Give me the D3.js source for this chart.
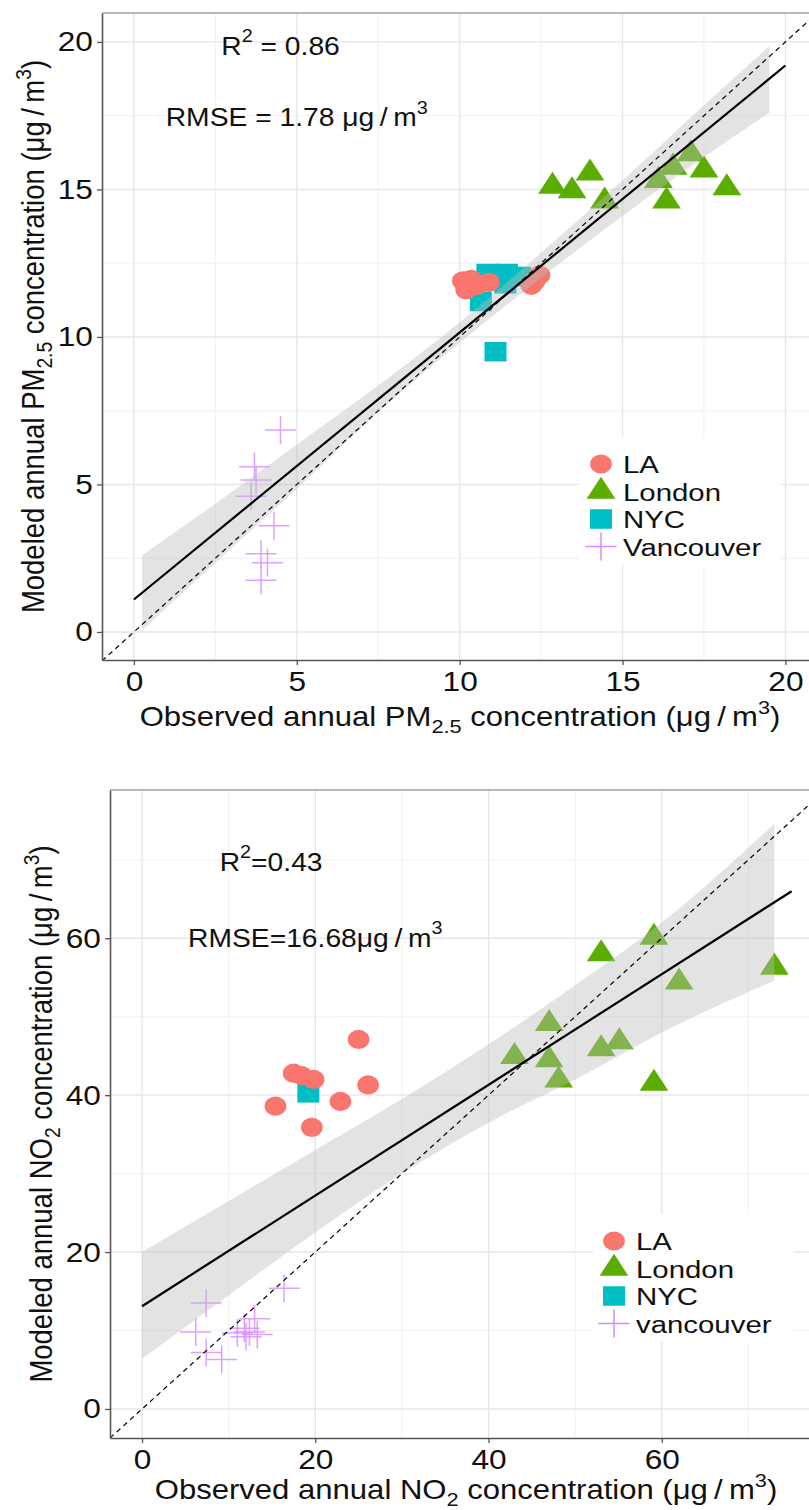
<!DOCTYPE html>
<html>
<head>
<meta charset="utf-8">
<script src="https://cdn.jsdelivr.net/npm/d3@7"></script>
<style>
  body { margin: 0; background: #fff; }
  svg { display: block; }
  text { font-family: "Liberation Sans", Arial, sans-serif; fill: #111; }
</style>
</head>
<body>
<svg id="chart" width="809" height="1510"></svg>
<script>
// ---- data ----
const cities = ["LA", "London", "NYC", "Vancouver"];
const citiesNO2 = ["LA", "London", "NYC", "vancouver"];
const cityColors = ["#F8766D", "#5BAD00", "#00BFC4", "#D68AFF"];

// PM2.5 panel: [observed, modeled]
const pmLA = [[10.1, 11.9], [10.2, 11.6], [10.35, 11.95], [10.55, 11.75], [10.9, 11.85], [12.2, 11.75], [12.45, 12.1], [12.3, 11.9]];
const pmLondon = [[12.85, 15.1], [13.45, 14.95], [14.0, 15.55], [14.45, 14.6], [16.1, 15.3], [16.55, 15.75], [17.1, 16.2], [17.5, 15.65], [16.35, 14.6], [18.2, 15.05]];
const pmNYC = [[11.1, 9.5], [10.65, 11.2], [10.85, 12.15], [11.45, 12.15], [11.4, 11.8], [11.85, 12.05]];
const pmVancouver = [[4.5, 6.85], [3.7, 5.6], [3.75, 5.15], [3.6, 4.6], [4.3, 3.6], [3.9, 2.65], [4.1, 2.35], [3.9, 1.75]];
const pmFitX = [0, 20];
const pmFitY = [1.1, 19.2];
const pmBandX = [0.25, 2.5, 5, 7.5, 10, 12.5, 15, 17.5, 19.5];
const pmBandLo = [0.05, 2.35, 4.85, 7.45, 9.8, 12.0, 14.1, 16.1, 17.6];
const pmBandHi = [2.6, 4.35, 6.35, 8.35, 10.5, 12.85, 15.3, 17.85, 19.85];
const pmTicks = [0, 5, 10, 15, 20];
const pmMinor = [2.5, 7.5, 12.5, 17.5];

// NO2 panel: [observed, modeled]
const no2LA = [[25.0, 47.1], [17.5, 42.8], [18.4, 42.5], [19.8, 42.0], [26.1, 41.3], [22.9, 39.2], [15.4, 38.6], [19.6, 35.9]];
const no2London = [[53.0, 58.0], [59.1, 60.1], [73.0, 56.3], [62.0, 54.4], [47.0, 49.1], [43.0, 44.9], [47.0, 44.5], [53.0, 45.9], [55.1, 46.8], [48.1, 41.9], [59.1, 41.5]];
const no2NYC = [[19.2, 40.3]];
const no2Vancouver = [[7.4, 13.5], [16.4, 15.4], [6.2, 9.8], [7.4, 7.2], [9.2, 6.3], [11.0, 9.7], [11.8, 10.3], [12.4, 9.8], [13.0, 11.5], [13.3, 9.5], [12.0, 9.2]];
const no2FitX = [0, 75];
const no2FitY = [13.1, 66.0];
const no2BandX = [0, 10, 20, 30, 40, 50, 60, 73];
const no2BandLo = [6.4, 14.5, 22.5, 30, 36.5, 42, 48, 54.6];
const no2BandHi = [20, 26.5, 33, 39.5, 46.5, 54, 62, 74.6];
const no2Ticks = [0, 20, 40, 60];
const no2Minor = [10, 30, 50, 70];

const unit = [{ t: " (\u03bcg\u2009/\u2009m" }, { t: "3", sup: true }, { t: ")" }];

const SX = 1.13; // the picture is a little wider than tall

const svg = d3.select("#chart");

// rich text with sub / superscripts
function rich(sel, segs, size) {
  let shift = 0;
  segs.forEach(s => {
    const target = s.sub ? size * 0.25 : s.sup ? -size * 0.42 : 0;
    const ts = sel.append("tspan").text(s.t).attr("dy", target - shift);
    if (s.sub || s.sup) ts.attr("font-size", size * 0.7);
    shift = target;
  });
  return sel;
}

function addText(g, x, y, segs, size, anchor) {
  const t = g.append("text")
    .attr("transform", `translate(${x},${y}) scale(${SX},1)`)
    .attr("font-size", size)
    .attr("text-anchor", anchor || "middle");
  return rich(t, segs, size);
}

function drawPanel(cfg) {
  const g = svg.append("g");
  const x = d3.scaleLinear().domain(cfg.xDomain).range([cfg.left, cfg.right]);
  const y = d3.scaleLinear().domain(cfg.yDomain).range([cfg.bottom, cfg.top]);

  g.append("defs").append("clipPath").attr("id", cfg.id)
    .append("rect")
    .attr("x", cfg.left).attr("y", cfg.top)
    .attr("width", cfg.right - cfg.left).attr("height", cfg.bottom - cfg.top);

  const plot = g.append("g").attr("clip-path", `url(#${cfg.id})`);

  // grid
  const grid = plot.append("g");
  cfg.minor.forEach(v => {
    grid.append("line").attr("x1", x(v)).attr("x2", x(v)).attr("y1", cfg.top).attr("y2", cfg.bottom)
      .attr("stroke", "#f0f0f0").attr("stroke-width", 1);
    grid.append("line").attr("y1", y(v)).attr("y2", y(v)).attr("x1", cfg.left).attr("x2", cfg.right)
      .attr("stroke", "#f0f0f0").attr("stroke-width", 1);
  });
  cfg.ticks.forEach(v => {
    grid.append("line").attr("x1", x(v)).attr("x2", x(v)).attr("y1", cfg.top).attr("y2", cfg.bottom)
      .attr("stroke", "#e6e6e6").attr("stroke-width", 1.4);
    grid.append("line").attr("y1", y(v)).attr("y2", y(v)).attr("x1", cfg.left).attr("x2", cfg.right)
      .attr("stroke", "#e6e6e6").attr("stroke-width", 1.4);
  });

  // points
  const circle = d3.symbol().type(d3.symbolCircle).size(290)();
  const tri = d3.symbol().type(d3.symbolTriangle).size(280)();
  const square = d3.symbol().type(d3.symbolSquare).size(380)();
  const plus = "M-15.5,0H15.5M0,-14V14";

  plot.selectAll(".london").data(cfg.london).join("path")
    .attr("d", tri).attr("fill", cityColors[1])
    .attr("transform", d => `translate(${x(d[0])},${y(d[1])}) scale(${SX},1)`);
  plot.selectAll(".nyc").data(cfg.nyc).join("path")
    .attr("d", square).attr("fill", cityColors[2])
    .attr("transform", d => `translate(${x(d[0])},${y(d[1])}) scale(${SX},1)`);
  plot.selectAll(".la").data(cfg.la).join("path")
    .attr("d", circle).attr("fill", cityColors[0])
    .attr("transform", d => `translate(${x(d[0])},${y(d[1])}) scale(${SX},1)`);
  plot.selectAll(".van").data(cfg.van).join("path")
    .attr("d", plus).attr("fill", "none").attr("stroke", cityColors[3])
    .attr("stroke-width", 1.5).attr("stroke-opacity", 0.8)
    .attr("transform", d => `translate(${x(d[0])},${y(d[1])})`);

  // confidence band
  const band = cfg.bandX.map((v, i) => ({ x: v, lo: cfg.bandLo[i], hi: cfg.bandHi[i] }));
  plot.append("path").datum(band)
    .attr("d", d3.area().x(d => x(d.x)).y0(d => y(d.lo)).y1(d => y(d.hi)).curve(d3.curveMonotoneX))
    .attr("fill", "#bdbdbd").attr("fill-opacity", 0.42);

  // fitted line
  plot.append("path").datum(cfg.fitX.map((v, i) => [v, cfg.fitY[i]]))
    .attr("d", d3.line().x(d => x(d[0])).y(d => y(d[1])))
    .attr("stroke", "#000").attr("stroke-width", 2.2).attr("fill", "none");

  // 1:1 line
  const lo = Math.min(cfg.xDomain[0], cfg.yDomain[0]);
  const hi = Math.max(cfg.xDomain[1], cfg.yDomain[1]);
  plot.append("path").datum([lo, hi])
    .attr("d", d3.line().x(d => x(d)).y(d => y(d)))
    .attr("stroke", "#000").attr("stroke-width", 1.2).attr("stroke-dasharray", "5,4").attr("fill", "none");

  // border
  g.append("line").attr("x1", cfg.left).attr("x2", cfg.right).attr("y1", cfg.top).attr("y2", cfg.top)
    .attr("stroke", "#a0a0a0").attr("stroke-width", 1.5);

  // axes
  const xAxis = g.append("g").attr("transform", `translate(0,${cfg.bottom})`)
    .call(d3.axisBottom(x).tickValues(cfg.ticks).tickSize(5).tickSizeOuter(0).tickPadding(6));
  const yAxis = g.append("g").attr("transform", `translate(${cfg.left},0)`)
    .call(d3.axisLeft(y).tickValues(cfg.ticks).tickSize(5).tickSizeOuter(0).tickPadding(3));
  [xAxis, yAxis].forEach(a => {
    a.select(".domain").attr("stroke", "#555").attr("stroke-width", 1.6);
    a.selectAll(".tick line").attr("stroke", "#555").attr("stroke-width", 1.3);
    a.selectAll(".tick text").attr("font-size", 28).attr("fill", "#111")
      .attr("font-family", "Liberation Sans, Arial, sans-serif");
  });
  xAxis.selectAll(".tick text").attr("transform", `scale(${SX},1)`);
  yAxis.selectAll(".tick text").attr("transform", `scale(${SX},1)`);

  // titles
  addText(g, (cfg.left + cfg.right) / 2, cfg.xTitleY, cfg.xTitle, 27.5);
  const yt = g.append("text")
    .attr("transform", `translate(${cfg.yTitleX},${(cfg.top + cfg.bottom) / 2}) rotate(-90) scale(1,${SX})`)
    .attr("font-size", 27.5).attr("text-anchor", "middle");
  rich(yt, cfg.yTitle, 27.5);

  // annotations
  cfg.notes.forEach(n => {
    addText(g, x(n.x), y(n.y), n.segs, 25).attr("dominant-baseline", "central");
  });

  // legend
  const lg = g.append("g").attr("transform", `translate(${cfg.legend[0]},${cfg.legend[1]})`);
  lg.append("rect").attr("x", 0).attr("y", 0).attr("width", 200).attr("height", 128).attr("fill", "#fff");
  const keys = [circle, tri, square, plus];
  cfg.names.forEach((name, i) => {
    const ky = 27 + i * 27.5;
    lg.append("path").attr("d", keys[i])
      .attr("transform", i === 3 ? `translate(21,${ky})` : `translate(21,${ky}) scale(${SX},1)`)
      .attr("fill", i === 3 ? "none" : cityColors[i])
      .attr("stroke", i === 3 ? cityColors[3] : "none")
      .attr("stroke-width", 1.5);
    lg.append("text").attr("transform", `translate(43,${ky + 9}) scale(1.25,1)`)
      .attr("font-size", 23.5).text(name);
  });
}

drawPanel({
  id: "clipPM",
  left: 102, right: 818, top: 13, bottom: 660,
  xDomain: [-0.98, 21.0], yDomain: [-0.95, 20.98],
  ticks: pmTicks, minor: pmMinor,
  la: pmLA, london: pmLondon, nyc: pmNYC, van: pmVancouver,
  fitX: pmFitX, fitY: pmFitY,
  bandX: pmBandX, bandLo: pmBandLo, bandHi: pmBandHi,
  xTitleY: 726, yTitleX: 44,
  xTitle: [{ t: "Observed annual PM" }, { t: "2.5", sub: true }, { t: " concentration" }].concat(unit),
  yTitle: [{ t: "Modeled annual PM" }, { t: "2.5", sub: true }, { t: " concentration" }].concat(unit),
  notes: [
    { x: 4.5, y: 19.85, segs: [{ t: "R" }, { t: "2", sup: true }, { t: " = 0.86" }] },
    { x: 5.0, y: 17.42, segs: [{ t: "RMSE = 1.78 \u03bcg\u2009/\u2009m" }, { t: "3", sup: true }] }
  ],
  names: cities,
  legend: [580, 437]
});

drawPanel({
  id: "clipNO2",
  left: 110, right: 822, top: 790, bottom: 1438,
  xDomain: [-3.7, 78.5], yDomain: [-3.7, 78.9],
  ticks: no2Ticks, minor: no2Minor,
  la: no2LA, london: no2London, nyc: no2NYC, van: no2Vancouver,
  fitX: no2FitX, fitY: no2FitY,
  bandX: no2BandX, bandLo: no2BandLo, bandHi: no2BandHi,
  xTitleY: 1499, yTitleX: 52,
  xTitle: [{ t: "Observed annual NO" }, { t: "2", sub: true }, { t: " concentration" }].concat(unit),
  yTitle: [{ t: "Modeled annual NO" }, { t: "2", sub: true }, { t: " concentration" }].concat(unit),
  notes: [
    { x: 14.9, y: 69.7, segs: [{ t: "R" }, { t: "2", sup: true }, { t: "=0.43" }] },
    { x: 20.0, y: 60.0, segs: [{ t: "RMSE=16.68\u03bcg\u2009/\u2009m" }, { t: "3", sup: true }] }
  ],
  names: citiesNO2,
  legend: [593, 1214]
});
</script>
</body>
</html>
